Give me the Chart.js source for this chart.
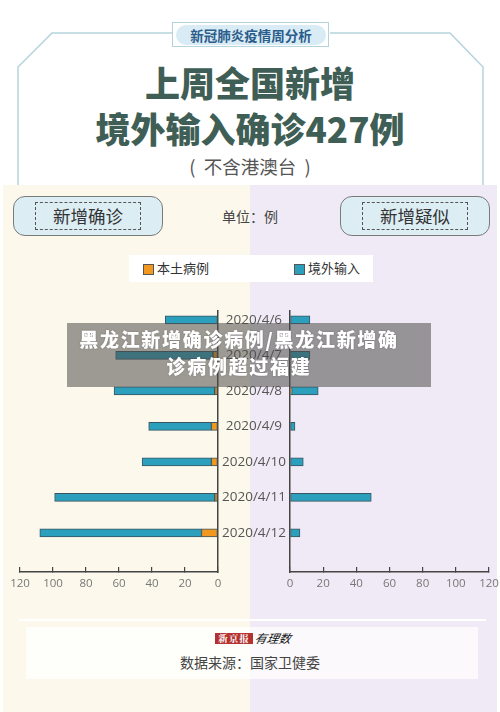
<!DOCTYPE html>
<html lang="zh">
<head>
<meta charset="UTF-8">
<title>上周全国新增境外输入确诊427例</title>
<script src="https://cdn.jsdelivr.net/npm/chart.js@4"></script>
<style>
  body { margin: 0; background: #fff; font-family: "Noto Sans CJK SC", "Noto Sans", sans-serif; }
  #page { position: relative; width: 500px; height: 712px; overflow: hidden; background: #fff; }
  .abs { position: absolute; }
  .bgL { left: 3px; top: 185px; width: 247px; height: 527px; background: #fcf9ec; }
  .bgR { left: 250px; top: 185px; width: 247px; height: 527px; background: #efeaf5; }
  .badge { left: 172px; top: 22px; width: 155px; height: 23px; border: 1.5px solid #b5d3dd; background: #fff; }
  .pill { left: 176px; top: 25px; width: 150px; height: 20px; border-radius: 10px; background: #d9ebf4;
          color: #2b5d8c; font-weight: 700; font-size: 13.5px; line-height: 20px; text-align: center; }
  .title { left: 0; width: 500px; text-align: center; color: #3f5f56; font-weight: 900; font-size: 35px; line-height: 40px; }
  .sub { left: 0; width: 500px; text-align: center; color: #555; font-size: 18.5px; line-height: 22px; }
  .box { top: 196px; width: 148px; height: 38px; border: 1px solid #7a7a7a; border-radius: 12px; background: #dcedf3; }
  .dash { top: 202px; height: 26px; border: 1px dashed #555; color: #333; font-size: 17.5px; line-height: 26px; text-align: center; }
  .unit { left: 200px; top: 205px; width: 100px; text-align: center; color: #444; font-size: 14px; line-height: 22px; }
  .legend { left: 129px; top: 255px; width: 244px; height: 27px; background: #fff; }
  .sw { width: 9px; height: 9px; top: 264px; border: 1px solid #555; }
  .lt { top: 259px; color: #333; font-size: 13px; line-height: 18px; }
  canvas { position: absolute; }
  .overlay { left: 67px; top: 323px; width: 364px; height: 64px; background: rgba(78, 76, 74, 0.55); z-index: 5; }
  .otext { left: 67px; top: 325px; width: 344px; text-align: center; color: #fff; font-weight: 900; font-size: 19px;
           letter-spacing: 1.7px; line-height: 27px; z-index: 6; text-shadow: 0 0 2px rgba(0,0,0,0.25); }
  .fline { left: 19px; top: 619px; width: 467px; height: 2px; background: #fff; }
  .fbox { left: 26px; top: 627px; width: 452px; height: 52px; background: rgba(255,255,255,0.72); }
  .logo { left: 215px; top: 633px; width: 38px; height: 11px; background: #b3312f; color: #fff; font-family: "Noto Serif CJK SC", serif;
          font-weight: 700; font-size: 9.5px; line-height: 11px; text-align: center; letter-spacing: 1px; }
  .logo2 { left: 255px; top: 630px; color: #111; font-size: 12px; font-style: italic; line-height: 16px; transform: skewX(-12deg); }
  .src { left: 0; top: 651px; width: 500px; text-align: center; color: #444; font-size: 14px; line-height: 22px; }
</style>
</head>
<body>
<div id="page">
  <div class="abs bgL"></div>
  <div class="abs bgR"></div>

  <svg class="abs" style="left:0;top:0" width="500" height="190">
    <polyline points="172,33 52,33 18,67 18,185" fill="none" stroke="#b5d3dd" stroke-width="1.5"/>
    <polyline points="330,33 450,33 483,67 483,185" fill="none" stroke="#b5d3dd" stroke-width="1.5"/>
  </svg>
  <div class="abs badge"></div>
  <div class="abs pill">新冠肺炎疫情周分析</div>
  <div class="abs title" style="top:62px">上周全国新增</div>
  <div class="abs title" style="top:108px">境外输入确诊427例</div>
  <div class="abs sub" style="top:155px">(&nbsp;&nbsp;不含港澳台&nbsp;&nbsp;)</div>

  <div class="abs box" style="left:13px"></div>
  <div class="abs dash" style="left:35px;width:104px">新增确诊</div>
  <div class="abs unit">单位：例</div>
  <div class="abs box" style="left:340px"></div>
  <div class="abs dash" style="left:362px;width:104px">新增疑似</div>

  <div class="abs legend"></div>
  <div class="abs sw" style="left:143px;background:#f0981f"></div>
  <div class="abs lt" style="left:157px">本土病例</div>
  <div class="abs sw" style="left:294px;background:#2b9fbb"></div>
  <div class="abs lt" style="left:308px">境外输入</div>

  <canvas id="leftChart" width="290" height="300" style="left:0;top:300px"></canvas>
  <canvas id="rightChart" width="220" height="300" style="left:280px;top:300px"></canvas>

  <div class="abs overlay"></div>
  <div class="abs otext">黑龙江新增确诊病例/黑龙江新增确<br>诊病例超过福建</div>

  <div class="abs fline"></div>
  <div class="abs fbox"></div>
  <div class="abs logo">新京报</div>
  <div class="abs logo2">有理数</div>
  <div class="abs src">数据来源：国家卫健委</div>
</div>

<script>
// week of 2020/4/6 - 4/12
const dates = ['2020/4/6', '2020/4/7', '2020/4/8', '2020/4/9', '2020/4/10', '2020/4/11', '2020/4/12'];
const confirmedLocal = [0, 3, 2, 4, 4, 2, 10];
const confirmedImported = [32, 59, 61, 38, 42, 97, 98];
const suspectedLocal = [0, 0, 1, 0, 0, 0, 0];
const suspectedImported = [12, 12, 16, 3, 8, 49, 6];

const ORANGE = '#f0981f';
const TEAL = '#2b9fbb';
const EDGE = '#3b5560';
const AXIS = '#444';

Chart.defaults.font.family = '"Open Sans", sans-serif';
Chart.defaults.animation = false;

function points(values) {
    return values.map((v, i) => ({ x: v, y: i }));
}

function barSet(label, values, color) {
    return {
        label: label,
        data: points(values),
        backgroundColor: color,
        borderColor: EDGE,
        borderWidth: 1,
        borderSkipped: false,
        barThickness: 8,
    };
}

function xScale(reverse) {
    return {
        type: 'linear',
        min: 0,
        max: 120,
        reverse: reverse,
        stacked: true,
        offset: false,
        afterFit: (s) => { s.height = 28; s.paddingLeft = 0; s.paddingRight = 0; },
        grid: { drawOnChartArea: false, drawTicks: true, tickLength: -5, color: AXIS, lineWidth: 1.2 },
        border: { display: true, color: AXIS, width: 1.5 },
        ticks: { stepSize: 20, padding: 10, color: '#777', font: { size: 11.5 }, maxRotation: 0 },
    };
}

function yScale(position, showLabels) {
    return {
        type: 'linear',
        position: position,
        reverse: true,
        offset: false,
        min: -0.25,
        max: 7.1,
        stacked: true,
        afterBuildTicks: (s) => { s.ticks = dates.map((d, i) => ({ value: i })); },
        afterFit: (s) => { s.width = showLabels ? 72 : 0; s.paddingTop = 0; s.paddingBottom = 0; },
        grid: { display: false, drawTicks: false, offset: false },
        border: { display: true, color: AXIS, width: 1.5 },
        ticks: {
            display: showLabels,
            autoSkip: false,
            crossAlign: 'center',
            padding: 4,
            color: '#555',
            font: { size: 13.5 },
            callback: (v) => dates[v],
        },
    };
}

const commonPlugins = { legend: { display: false }, tooltip: { enabled: false } };

new Chart(document.getElementById('leftChart'), {
    type: 'bar',
    data: {
        datasets: [
            barSet('本土病例', confirmedLocal, ORANGE),
            barSet('境外输入', confirmedImported, TEAL),
        ],
    },
    options: {
        indexAxis: 'y',
        responsive: false,
        devicePixelRatio: 1,
        layout: { padding: { left: 20, right: 0, top: 11, bottom: 0 } },
        plugins: commonPlugins,
        scales: { x: xScale(true), y: yScale('right', true) },
    },
});

new Chart(document.getElementById('rightChart'), {
    type: 'bar',
    data: {
        datasets: [
            barSet('本土病例', suspectedLocal, ORANGE),
            barSet('境外输入', suspectedImported, TEAL),
        ],
    },
    options: {
        indexAxis: 'y',
        responsive: false,
        devicePixelRatio: 1,
        layout: { padding: { left: 10, right: 11, top: 11, bottom: 0 } },
        plugins: commonPlugins,
        scales: { x: xScale(false), y: yScale('left', false) },
    },
});
</script>
</body>
</html>
